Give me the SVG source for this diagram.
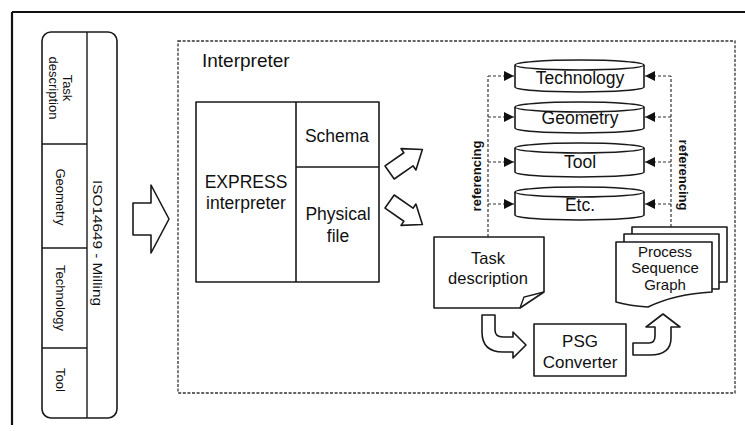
<svg xmlns="http://www.w3.org/2000/svg" width="745" height="431" viewBox="0 0 745 431">
<defs>
<style>
.t{font-family:"Liberation Sans",Arial,sans-serif;fill:#111;text-anchor:middle}
.s{fill:#fff;stroke:#1a1a1a;stroke-width:1.6;stroke-linejoin:round}
.d{fill:none;stroke:#333;stroke-width:1.3;stroke-dasharray:3 1.6}
.c{fill:none;stroke:#333;stroke-width:1.2;stroke-dasharray:3 2}
</style>
<marker id="ah" viewBox="0 0 10 10" refX="10" refY="5" markerWidth="10" markerHeight="10" markerUnits="userSpaceOnUse" orient="auto">
<path d="M0,0 L10,5 L0,10 Z" fill="#111"/>
</marker>
</defs>
<rect width="745" height="431" fill="#fff"/>
<g id="frame">
<path d="M12,12 L745,12 M12,12 L12,425" fill="none" stroke="#111" stroke-width="2.2"/>
</g>
<g id="iso-panel">
<rect x="42" y="32" width="75" height="386" rx="9" class="s"/>
<path d="M87,32 L87,418 M42,144 L87,144 M42,248 L87,248 M42,348 L87,348" stroke="#1a1a1a" stroke-width="1.4" fill="none"/>
<text class="t" font-size="13" transform="translate(58,88) rotate(90)"><tspan x="0" y="-5">Task</tspan><tspan x="0" y="9">description</tspan></text>
<text class="t" font-size="13" transform="translate(60,197) rotate(90)" dy="4">Geometry</text>
<text class="t" font-size="13" transform="translate(60,298) rotate(90)" dy="4">Technology</text>
<text class="t" font-size="13" transform="translate(60,380) rotate(90)" dy="4">Tool</text>
<text class="t" font-size="12" transform="translate(97,243) rotate(90)" dy="4" textLength="126" lengthAdjust="spacingAndGlyphs">ISO14649 - Milling</text>
</g>
<g id="big-arrow">
<path d="M133,203 L151,203 L151,185 L169,219 L151,253 L151,235 L133,235 Z" class="s"/>
</g>
<g id="interpreter">
<rect x="178" y="41" width="557" height="352" class="d"/>
<text x="202" y="67" font-size="19" class="t" style="text-anchor:start">Interpreter</text>
</g>
<g id="express">
<rect x="196" y="102" width="183" height="180" class="s"/>
<path d="M296,102 L296,282 M296,167 L379,167" stroke="#1a1a1a" stroke-width="1.6" fill="none"/>
<text class="t" font-size="17.5" x="246" y="188">EXPRESS</text>
<text class="t" font-size="17.5" x="246" y="209">interpreter</text>
<text class="t" font-size="17.5" x="337" y="142">Schema</text>
<text class="t" font-size="17.5" x="338" y="220">Physical</text>
<text class="t" font-size="17.5" x="338" y="242">file</text>
</g>
<g id="small-arrows">
<path d="M-20,-8 L3,-8 L3,-13 L20,0 L3,13 L3,8 L-20,8 Z" class="s" transform="translate(406,161) rotate(-35)"/>
<path d="M-20,-8 L3,-8 L3,-13 L20,0 L3,13 L3,8 L-20,8 Z" class="s" transform="translate(406,213) rotate(35)"/>
</g>
<g id="cyl-technology">
<path d="M515,65 A64.5,5 0 0 1 644,65 L644,87 A64.5,5 0 0 1 515,87 Z" class="s"/>
<path d="M515,65 A64.5,5 0 0 0 644,65" fill="none" stroke="#1a1a1a" stroke-width="1.4"/>
<text class="t" font-size="17.5" x="580" y="84">Technology</text>
</g>
<g id="cyl-geometry">
<path d="M515,107 A64.5,5 0 0 1 644,107 L644,128 A64.5,5 0 0 1 515,128 Z" class="s"/>
<path d="M515,107 A64.5,5 0 0 0 644,107" fill="none" stroke="#1a1a1a" stroke-width="1.4"/>
<text class="t" font-size="17.5" x="580" y="124">Geometry</text>
</g>
<g id="cyl-tool">
<path d="M515,148 A64.5,5 0 0 1 644,148 L644,172 A64.5,5 0 0 1 515,172 Z" class="s"/>
<path d="M515,148 A64.5,5 0 0 0 644,148" fill="none" stroke="#1a1a1a" stroke-width="1.4"/>
<text class="t" font-size="17.5" x="580" y="168">Tool</text>
</g>
<g id="cyl-etc">
<path d="M515,192 A64.5,5 0 0 1 644,192 L644,215 A64.5,5 0 0 1 515,215 Z" class="s"/>
<path d="M515,192 A64.5,5 0 0 0 644,192" fill="none" stroke="#1a1a1a" stroke-width="1.4"/>
<text class="t" font-size="17.5" x="580" y="211">Etc.</text>
</g>
<g id="connectors">
<path d="M488,237 L488,76" class="c"/>
<path d="M671,227 L671,76" class="c"/>
<path d="M488,76 L514,76" class="c" marker-end="url(#ah)"/>
<path d="M488,117 L514,117" class="c" marker-end="url(#ah)"/>
<path d="M488,162 L514,162" class="c" marker-end="url(#ah)"/>
<path d="M488,204 L514,204" class="c" marker-end="url(#ah)"/>
<path d="M671,76 L645,76" class="c" marker-end="url(#ah)"/>
<path d="M671,117 L645,117" class="c" marker-end="url(#ah)"/>
<path d="M671,162 L645,162" class="c" marker-end="url(#ah)"/>
<path d="M671,204 L645,204" class="c" marker-end="url(#ah)"/>
<text class="t" font-size="13" font-weight="bold" transform="translate(477,176) rotate(-90)" dy="4">referencing</text>
<text class="t" font-size="13" font-weight="bold" transform="translate(683,175) rotate(90)" dy="4">referencing</text>
<path d="M482,315 L495,315 L495,330 Q495,337 503,337 L513,337 L513,332 L526,345 L513,358 L513,352 L503,352 Q482,352 482,332 Z" class="s"/>
<path d="M633,343 L649,343 Q655,343 655,336 L655,327 L646,327 L663,314 L680,327 L671,327 L671,338 Q671,355 650,355 L633,355 Z" class="s"/>
</g>
<g id="task-doc">
<path d="M434,237 L544,237 L544,292 L520,308 L434,308 Z" class="s"/>
<path d="M520,308 L524,297 L544,292" fill="none" stroke="#1a1a1a" stroke-width="1.4"/>
<text class="t" font-size="16.5" x="488" y="264">Task</text>
<text class="t" font-size="16.5" x="488" y="284">description</text>
</g>
<g id="psg-converter">
<rect x="534" y="324" width="92" height="52" class="s"/>
<text class="t" font-size="17" x="580" y="347">PSG</text>
<text class="t" font-size="17" x="580" y="368">Converter</text>
</g>
<g id="psg-graph">
<rect x="632" y="227" width="95" height="55" class="s"/>
<rect x="624" y="234" width="95" height="55" class="s"/>
<path d="M616,242 L712,242 L712,292 Q675,294 648,307 Q630,306 616,302 Z" class="s"/>
<text class="t" font-size="15" x="665" y="257">Process</text>
<text class="t" font-size="15" x="665" y="273">Sequence</text>
<text class="t" font-size="15" x="665" y="290">Graph</text>
</g>
</svg>
